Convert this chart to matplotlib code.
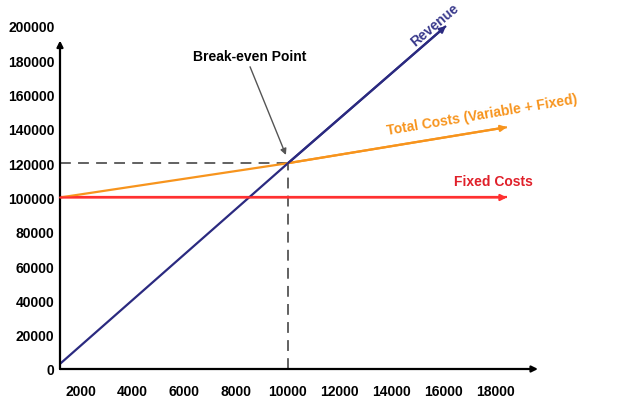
import matplotlib
matplotlib.use("Agg")
import matplotlib.pyplot as plt

plt.rcParams['font.family'] = ['Liberation Sans', 'DejaVu Sans']

# data
x_ticks = [2000, 4000, 6000, 8000, 10000, 12000, 14000, 16000, 18000]
y_ticks = [0, 20000, 40000, 60000, 80000, 100000, 120000, 140000, 160000, 180000, 200000]

rev_units = [1200, 10000, 16100]
revenue = [3000, 120000, 200000]

total_units = [1200, 10000, 18450]
total_costs = [100000, 120000, 141000]

fixed_units = [1200, 18450]
fixed_costs = [100000, 100000]

be_units = 10000
be_value = 120000

x_start = 1200

NAVY = '#2b2a80'
ORANGE = '#f7941d'
RED = '#ff3030'

fig = plt.figure(figsize=(6.23, 4.10), dpi=100)
ax = fig.add_axes([60 / 623, 40 / 410, 500 / 623, 351.6 / 410])
ax.set_xlim(x_start, 20500)
ax.set_ylim(0, 205000)

for s in ax.spines.values():
    s.set_visible(False)

# axes with arrows
ax.annotate('', xy=(19650, 0), xytext=(x_start, 0),
            arrowprops=dict(arrowstyle='-|>', color='black', lw=1.6, mutation_scale=9,
                            shrinkA=0, shrinkB=0), annotation_clip=False)
ax.annotate('', xy=(x_start, 191500), xytext=(x_start, 0),
            arrowprops=dict(arrowstyle='-|>', color='black', lw=1.6, mutation_scale=9,
                            shrinkA=0, shrinkB=0), annotation_clip=False)

# break-even guide lines
ax.plot([x_start, be_units], [be_value, be_value], color='#555555', lw=1.3,
        dashes=(6, 4))
ax.plot([be_units, be_units], [0, be_value], color='#555555', lw=1.3,
        dashes=(6, 4))


def arrow_line(xs, ys, color, lw=1.6):
    ax.plot(xs[:-1] + [xs[-1]], ys, color=color, lw=lw, solid_capstyle='butt')
    ax.annotate('', xy=(xs[-1], ys[-1]), xytext=(xs[-2], ys[-2]),
                arrowprops=dict(arrowstyle='-|>', color=color, lw=lw, mutation_scale=9,
                                shrinkA=0, shrinkB=0), annotation_clip=False)


arrow_line(fixed_units, fixed_costs, RED)
arrow_line(total_units, total_costs, ORANGE)
arrow_line(rev_units, revenue, NAVY)

# labels
ax.text(15680, 201200, 'Revenue', color='#3a3a8c', fontsize=10, fontweight='bold',
        rotation=40, ha='center', va='center', clip_on=False)
ax.text(17490, 148700, 'Total Costs (Variable + Fixed)', color=ORANGE, fontsize=10,
        fontweight='bold', rotation=9.5, ha='center', va='center')
ax.text(17920, 109600, 'Fixed Costs', color='#e0202a', fontsize=10,
        fontweight='bold', ha='center', va='center')
ax.text(8536, 182500, 'Break-even Point', color='black', fontsize=10,
        fontweight='bold', ha='center', va='center')
ax.annotate('', xy=(9920, 124800), xytext=(8536, 176200),
            arrowprops=dict(arrowstyle='-|>', color='#555555', lw=1.0, mutation_scale=9,
                            shrinkA=0, shrinkB=0))

ax.set_xticks(x_ticks)
ax.set_yticks(y_ticks)
ax.set_xticklabels([str(v) for v in x_ticks], fontweight='bold', fontsize=10)
ax.set_yticklabels([str(v) for v in y_ticks], fontweight='bold', fontsize=10)
ax.tick_params(axis='x', length=0, pad=11)
ax.tick_params(axis='y', length=0, pad=4)

fig.savefig('out.png', dpi=100)
